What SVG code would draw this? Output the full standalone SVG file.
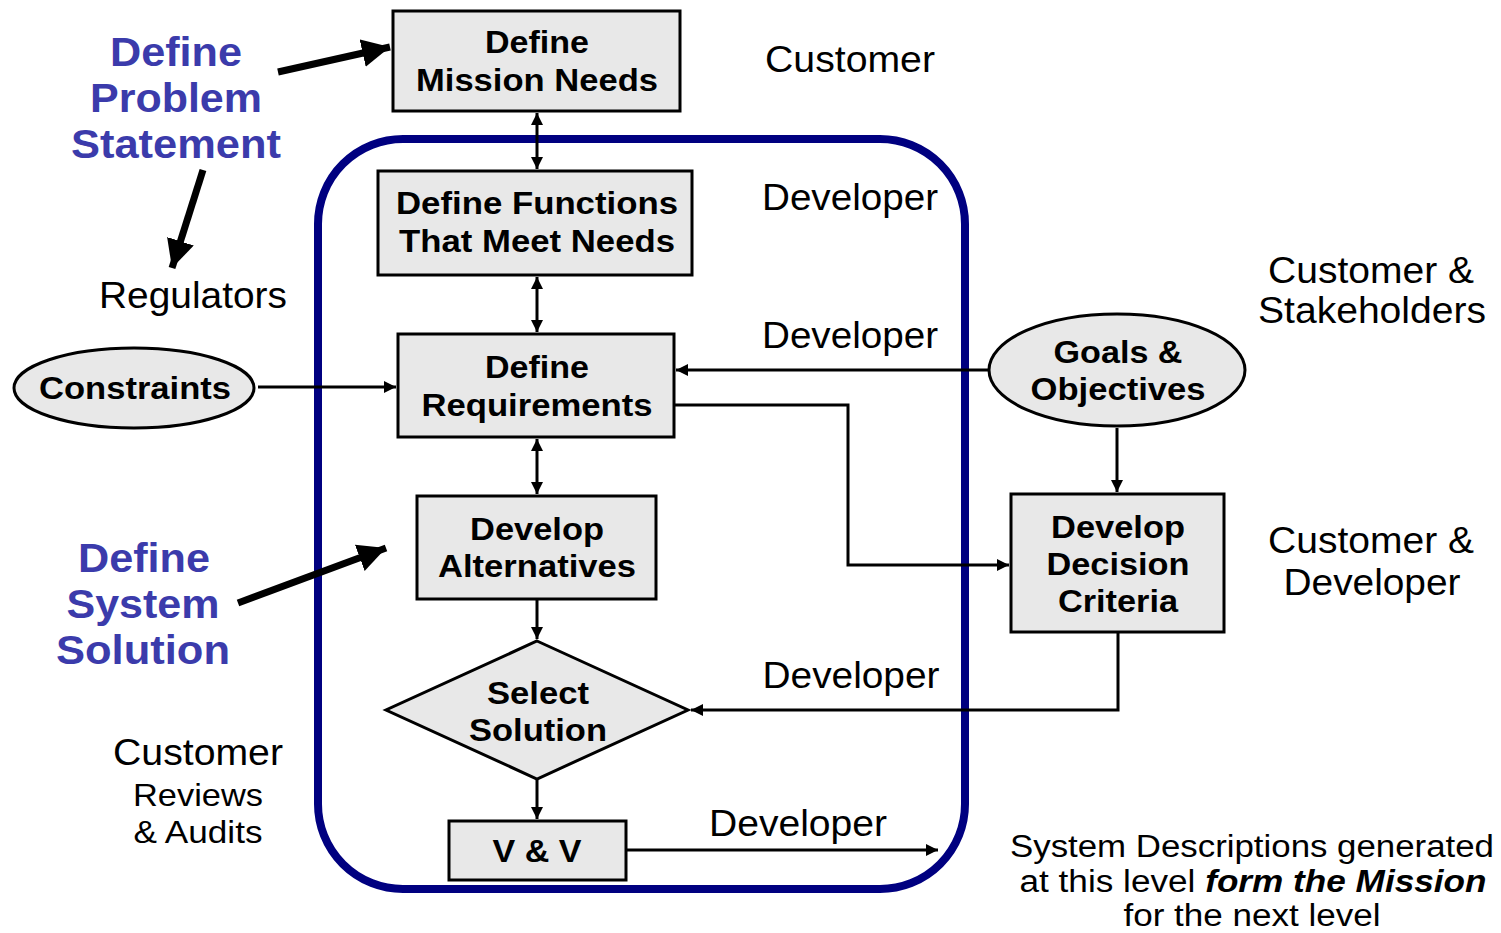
<svg xmlns="http://www.w3.org/2000/svg" width="1501" height="933" viewBox="0 0 1501 933">
<style>
text{font-family:"Liberation Sans",Arial,sans-serif;text-anchor:middle}
.nt{font-weight:bold;font-size:32px;fill:#000}
.lb{font-size:37px;fill:#000}
.sm{font-size:32px;fill:#000}
.bt{font-size:31px;fill:#000}
.bl{font-weight:bold;font-size:41px;fill:#3b3bab}
.box{fill:#e8e8e8;stroke:#000;stroke-width:3}
.ln{fill:none;stroke:#000;stroke-width:3}
.thick{fill:none;stroke:#000;stroke-width:7}
</style>
<defs>
<marker id="ah" viewBox="0 0 10 10" refX="10" refY="5" markerWidth="4" markerHeight="4" orient="auto-start-reverse" markerUnits="strokeWidth"><path d="M0,0 L10,5 L0,10 z" fill="#000"/></marker>
<marker id="big" viewBox="0 0 10 10" refX="10" refY="5" markerWidth="4" markerHeight="4" orient="auto" markerUnits="strokeWidth"><path d="M0,0 L10,5 L0,10 z" fill="#000"/></marker>
</defs>
<rect width="1501" height="933" fill="#fff"/>
<rect id="container" x="318" y="139" width="647" height="750" rx="85" ry="85" fill="none" stroke="#000080" stroke-width="8"/>
<g id="connectors">
<line class="ln" x1="537" y1="113" x2="537" y2="169" marker-start="url(#ah)" marker-end="url(#ah)"/>
<line class="ln" x1="537" y1="277" x2="537" y2="332" marker-start="url(#ah)" marker-end="url(#ah)"/>
<line class="ln" x1="537" y1="439" x2="537" y2="494" marker-start="url(#ah)" marker-end="url(#ah)"/>
<line class="ln" x1="537" y1="600" x2="537" y2="639" marker-end="url(#ah)"/>
<line class="ln" x1="537" y1="780" x2="537" y2="819" marker-end="url(#ah)"/>
<line class="ln" x1="258" y1="387" x2="396" y2="387" marker-end="url(#ah)"/>
<line class="ln" x1="989" y1="370" x2="676" y2="370" marker-end="url(#ah)"/>
<polyline class="ln" points="675,405 848,405 848,565 1009,565" marker-end="url(#ah)"/>
<line class="ln" x1="1117" y1="428" x2="1117" y2="492" marker-end="url(#ah)"/>
<polyline class="ln" points="1118,633 1118,710 691,710" marker-end="url(#ah)"/>
<line class="ln" x1="627" y1="850" x2="938" y2="850" marker-end="url(#ah)"/>
<line class="thick" x1="278" y1="72" x2="390" y2="47" marker-end="url(#big)"/>
<line class="thick" x1="203" y1="170" x2="172" y2="268" marker-end="url(#big)"/>
<line class="thick" x1="238" y1="603" x2="386" y2="548" marker-end="url(#big)"/>
</g>
<g id="mission"><rect class="box" x="393" y="11" width="287" height="100"/><text class="nt" x="537" y="53" textLength="104" lengthAdjust="spacingAndGlyphs">Define</text><text class="nt" x="537" y="91" textLength="242" lengthAdjust="spacingAndGlyphs">Mission Needs</text></g>
<g id="functions"><rect class="box" x="378" y="171" width="314" height="104"/><text class="nt" x="537" y="214" textLength="282" lengthAdjust="spacingAndGlyphs">Define Functions</text><text class="nt" x="537" y="252" textLength="276" lengthAdjust="spacingAndGlyphs">That Meet Needs</text></g>
<g id="requirements"><rect class="box" x="398" y="334" width="276" height="103"/><text class="nt" x="537" y="378" textLength="104" lengthAdjust="spacingAndGlyphs">Define</text><text class="nt" x="537" y="416" textLength="231" lengthAdjust="spacingAndGlyphs">Requirements</text></g>
<g id="alternatives"><rect class="box" x="417" y="496" width="239" height="103"/><text class="nt" x="537" y="540" textLength="134" lengthAdjust="spacingAndGlyphs">Develop</text><text class="nt" x="537" y="577" textLength="198" lengthAdjust="spacingAndGlyphs">Alternatives</text></g>
<g id="select"><polygon class="box" points="537,641 688,710 537,779 386,710"/><text class="nt" x="538" y="704" textLength="102" lengthAdjust="spacingAndGlyphs">Select</text><text class="nt" x="538" y="741" textLength="138" lengthAdjust="spacingAndGlyphs">Solution</text></g>
<g id="vv"><rect class="box" x="449" y="821" width="177" height="59"/><text class="nt" x="537" y="862" textLength="89" lengthAdjust="spacingAndGlyphs">V &amp; V</text></g>
<g id="decision"><rect class="box" x="1011" y="494" width="213" height="138"/><text class="nt" x="1118" y="538" textLength="134" lengthAdjust="spacingAndGlyphs">Develop</text><text class="nt" x="1118" y="575" textLength="143" lengthAdjust="spacingAndGlyphs">Decision</text><text class="nt" x="1118" y="612" textLength="120" lengthAdjust="spacingAndGlyphs">Criteria</text></g>
<g id="goals"><ellipse class="box" cx="1117" cy="370" rx="128" ry="56"/><text class="nt" x="1118" y="363" textLength="129" lengthAdjust="spacingAndGlyphs">Goals &amp;</text><text class="nt" x="1118" y="400" textLength="175" lengthAdjust="spacingAndGlyphs">Objectives</text></g>
<g id="constraints"><ellipse class="box" cx="134" cy="388" rx="120" ry="40"/><text class="nt" x="135" y="399" textLength="192" lengthAdjust="spacingAndGlyphs">Constraints</text></g>
<g id="labels">
<text class="bl" x="176" y="66" textLength="132" lengthAdjust="spacingAndGlyphs">Define</text><text class="bl" x="176" y="112" textLength="172" lengthAdjust="spacingAndGlyphs">Problem</text><text class="bl" x="176" y="158" textLength="210" lengthAdjust="spacingAndGlyphs">Statement</text>
<text class="bl" x="144" y="572" textLength="132" lengthAdjust="spacingAndGlyphs">Define</text><text class="bl" x="143" y="618" textLength="153" lengthAdjust="spacingAndGlyphs">System</text><text class="bl" x="143" y="664" textLength="174" lengthAdjust="spacingAndGlyphs">Solution</text>
<text class="lb" x="193" y="308" textLength="188" lengthAdjust="spacingAndGlyphs">Regulators</text>
<text class="lb" x="850" y="72" textLength="170" lengthAdjust="spacingAndGlyphs">Customer</text>
<text class="lb" x="850" y="210" textLength="176" lengthAdjust="spacingAndGlyphs">Developer</text>
<text class="lb" x="850" y="348" textLength="176" lengthAdjust="spacingAndGlyphs">Developer</text>
<text class="lb" x="851" y="688" textLength="177" lengthAdjust="spacingAndGlyphs">Developer</text>
<text class="lb" x="798" y="836" textLength="178" lengthAdjust="spacingAndGlyphs">Developer</text>
<text class="lb" x="1371" y="283" textLength="206" lengthAdjust="spacingAndGlyphs">Customer &amp;</text><text class="lb" x="1372" y="323" textLength="228" lengthAdjust="spacingAndGlyphs">Stakeholders</text>
<text class="lb" x="1371" y="553" textLength="206" lengthAdjust="spacingAndGlyphs">Customer &amp;</text><text class="lb" x="1372" y="595" textLength="177" lengthAdjust="spacingAndGlyphs">Developer</text>
<text class="lb" x="198" y="765" textLength="170" lengthAdjust="spacingAndGlyphs">Customer</text>
<text class="sm" x="198" y="806" textLength="130" lengthAdjust="spacingAndGlyphs">Reviews</text><text class="sm" x="198" y="843" textLength="129" lengthAdjust="spacingAndGlyphs">&amp; Audits</text>
<text class="bt" x="1252" y="857" textLength="484" lengthAdjust="spacingAndGlyphs">System Descriptions generated</text>
<text class="bt" x="1253" y="892" textLength="467" lengthAdjust="spacingAndGlyphs">at this level <tspan font-weight="bold" font-style="italic">form the Mission</tspan></text>
<text class="bt" x="1252" y="926" textLength="257" lengthAdjust="spacingAndGlyphs">for the next level</text>
</g>
</svg>
